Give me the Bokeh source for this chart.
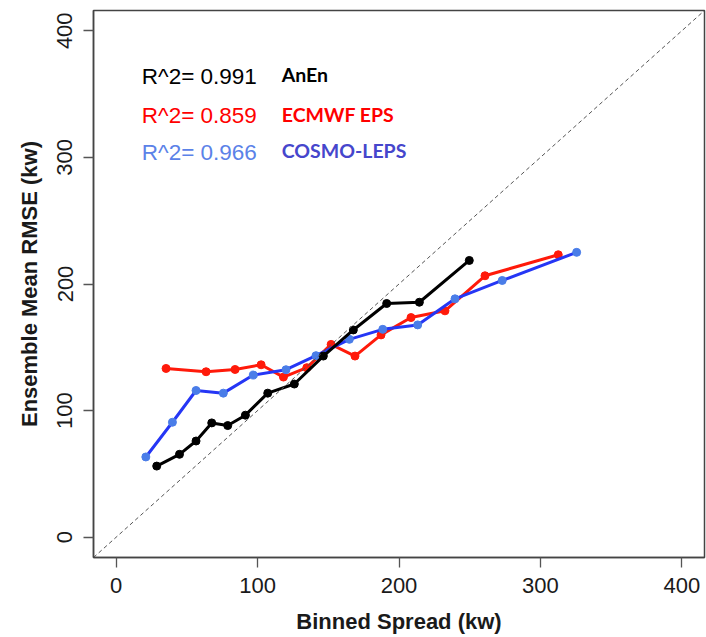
from bokeh.plotting import figure
from bokeh.models import Range1d, FixedTicker, Label, Slope
from bokeh.embed import file_html
from bokeh.resources import INLINE

# ---- data ----
anen_x = [28.7, 44.8, 56.5, 67.6, 78.9, 91.4, 107.2, 126.0, 146.5, 167.7, 191.3, 214.4, 249.7]
anen_y = [56.2, 65.5, 76.0, 90.3, 88.2, 96.4, 113.8, 121.0, 143.1, 163.7, 184.6, 185.6, 218.6]

ecmwf_x = [35.3, 63.6, 84.1, 102.5, 118.3, 134.8, 152.0, 168.9, 187.3, 208.5, 232.5, 260.8, 312.6]
ecmwf_y = [133.3, 130.7, 132.5, 136.2, 126.5, 133.9, 152.3, 143.1, 159.8, 173.5, 178.8, 206.5, 223.1]

cosmo_x = [21.0, 39.8, 56.5, 75.8, 97.0, 120.1, 141.3, 164.9, 188.5, 213.2, 239.6, 273.0, 325.6]
cosmo_y = [63.4, 90.8, 115.9, 113.8, 128.1, 132.3, 143.4, 156.3, 164.2, 167.7, 188.3, 202.8, 225.0]

r2_labels = ["R^2= 0.991", "R^2= 0.859", "R^2= 0.966"]
model_names = ["AnEn", "ECMWF EPS", "COSMO-LEPS"]
ticks = [0, 100, 200, 300, 400]

# ---- figure ----
p = figure(
    output_backend="svg", toolbar_location=None,
    frame_width=611, frame_height=547,
    min_border_left=93, min_border_right=2, min_border_top=10, min_border_bottom=80,
    x_range=Range1d(-16, 416), y_range=Range1d(-16, 416),
)
p.background_fill_color = "white"
p.border_fill_color = "white"
p.grid.visible = False
p.outline_line_color = "#444444"
p.outline_line_width = 1.5

for ax in (p.xaxis[0], p.yaxis[0]):
    ax.ticker = FixedTicker(ticks=ticks)
    ax.minor_tick_line_color = None
    ax.major_tick_in = 0
    ax.major_tick_out = 10
    ax.major_tick_line_color = "#555555"
    ax.major_tick_line_width = 1.3
    ax.axis_line_color = "#444444"
    ax.axis_line_width = 1.5
    ax.major_label_text_font = "Liberation Sans"
    ax.major_label_text_font_size = "22px"
    ax.major_label_text_color = "#1a1a1a"
    ax.axis_label_text_font = "Liberation Sans"
    ax.axis_label_text_font_style = "bold"
    ax.axis_label_text_font_size = "22px"
    ax.axis_label_text_color = "#1a1a1a"

p.xaxis.axis_label = "Binned Spread (kw)"
p.yaxis.axis_label = "Ensemble Mean RMSE (kw)"
p.xaxis.major_label_standoff = 10
p.yaxis.major_label_standoff = 11
p.yaxis.major_label_orientation = "vertical"
p.xaxis.axis_label_standoff = 13
p.yaxis.axis_label_standoff = 13

# 1:1 reference line
p.add_layout(Slope(gradient=1, y_intercept=0, line_color="#555555",
                   line_width=1, line_dash="4 3"))

# series
p.line(ecmwf_x, ecmwf_y, line_color="#ff1a0a", line_width=3)
p.scatter(ecmwf_x, ecmwf_y, size=8, fill_color="#ff1a0a", line_color="#ff1a0a")

p.line(cosmo_x, cosmo_y, line_color="#2536f5", line_width=3)
p.scatter(cosmo_x, cosmo_y, size=8, fill_color="#4a7de8", line_color="#4a7de8")

p.line(anen_x, anen_y, line_color="black", line_width=3)
p.scatter(anen_x, anen_y, size=8, fill_color="black", line_color="black")

# annotations
r2_colors = ["black", "#ff0000", "#5b82e8"]
name_colors = ["black", "#ff0000", "#4646cc"]
r2_x, r2_y = 18.2, [363.6, 333.2, 303.6]
nm_x, nm_y = 117.1, [365.7, 334.0, 305.7]
for i in range(3):
    p.add_layout(Label(x=r2_x, y=r2_y[i], text=r2_labels[i], text_color=r2_colors[i],
                       text_font="Liberation Sans", text_font_size="22.5px",
                       text_align="left", text_baseline="alphabetic"))
    p.add_layout(Label(x=nm_x, y=nm_y[i], text=model_names[i], text_color=name_colors[i],
                       text_font="Lato", text_font_style="bold", text_font_size="19.5px",
                       text_align="left", text_baseline="alphabetic"))

open("out.html", "w").write(file_html(p, INLINE))
